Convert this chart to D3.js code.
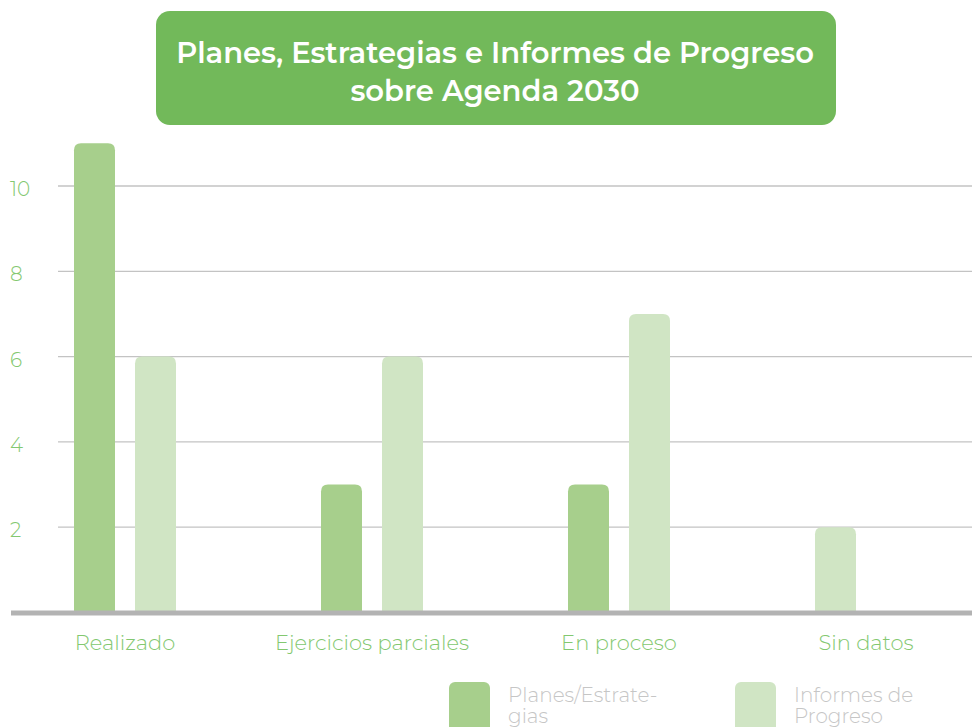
<!DOCTYPE html>
<html>
<head>
<meta charset="utf-8">
<script src="https://cdn.jsdelivr.net/npm/d3@7"></script>
<style>
  html, body { margin: 0; padding: 0; background: #fff; }
  svg { display: block; font-family: Montserrat, "Open Sans", Lato, sans-serif; }
</style>
</head>
<body>
<div id="container"></div>
<script>
const width = 972, height = 727;

// --- Data ---
const categories = ["Realizado", "Ejercicios parciales", "En proceso", "Sin datos"];
const series = ["Planes/Estrategias", "Informes de Progreso"];
const planes = [11, 3, 3, 0];
const informes = [6, 6, 7, 2];
const yTicks = [2, 4, 6, 8, 10];
const titleLines = ["Planes, Estrategias e Informes de Progreso", "sobre Agenda 2030"];
const legendLines = [["Planes/Estrate-", "gias"], ["Informes de", "Progreso"]];

const colors = ["#a7cf8c", "#d0e5c4"];
const tickGreen = "#83c870";

const svg = d3.select("#container").append("svg")
  .attr("width", width).attr("height", height);

// --- Scales ---
const x0 = d3.scaleBand().domain(categories).range([1.5, 989.5]);
const slots = d3.scaleBand().domain([0, 1]).range([-51, 51]).paddingInner(0.328);
const y = d3.scaleLinear().domain([0, 10]).range([612.5, 186]);

// Gridlines
svg.append("g").selectAll("line").data(yTicks).join("line")
  .attr("x1", 58).attr("x2", width)
  .attr("y1", d => y(d)).attr("y2", d => y(d))
  .attr("stroke", "#c3c3c3").attr("stroke-width", 1.3);

// Y tick labels
svg.append("g").selectAll("text").data(yTicks).join("text")
  .attr("x", 10).attr("y", d => y(d) + 10)
  .attr("fill", tickGreen)
  .style("font-size", "20px").style("font-weight", 300)
  .text(d => d);

// Bars, top corners rounded
function topRounded(x, yTop, w, yBase, r) {
  r = Math.min(r, (yBase - yTop));
  return `M${x},${yBase} L${x},${yTop + r} Q${x},${yTop} ${x + r},${yTop} ` +
    `L${x + w - r},${yTop} Q${x + w},${yTop} ${x + w},${yTop + r} L${x + w},${yBase} Z`;
}

// empty values are skipped and the remaining bars fill slots from the left
const rows = categories.map((c, i) => ({
  cat: c,
  bars: [planes[i], informes[i]].map((v, j) => ({ v, j })).filter(e => e.v > 0)
}));
const groups = svg.append("g").selectAll("g").data(rows).join("g")
  .attr("transform", d => `translate(${x0(d.cat) + x0.bandwidth() / 2},0)`);
groups.selectAll("path")
  .data(d => d.bars)
  .join("path")
  .attr("d", (e, k) => topRounded(slots(k), y(e.v), slots.bandwidth(), y(0), 7))
  .attr("fill", e => colors[e.j]);

// Baseline
svg.append("line")
  .attr("x1", 11).attr("x2", width)
  .attr("y1", y(0) + 0.5).attr("y2", y(0) + 0.5)
  .attr("stroke", "#b3b3b3").attr("stroke-width", 5);

// Category labels
svg.append("g").selectAll("text").data(categories).join("text")
  .attr("x", d => x0(d) + x0.bandwidth() / 2).attr("y", 650)
  .attr("text-anchor", "middle").attr("fill", tickGreen)
  .style("font-size", "21px").style("font-weight", 300)
  .text(d => d);

// Title box
svg.append("rect")
  .attr("x", 156).attr("y", 11).attr("width", 680).attr("height", 114)
  .attr("rx", 14).attr("fill", "#72b95a");
svg.append("g").selectAll("text").data(titleLines).join("text")
  .attr("x", 495).attr("y", (d, i) => 63 + i * 38)
  .attr("text-anchor", "middle").attr("fill", "#fff")
  .style("font-size", "29px").style("font-weight", 600)
  .text(d => d);

// Legend
const legendX = [449, 735];
legendLines.forEach((lines, i) => {
  svg.append("rect")
    .attr("x", legendX[i]).attr("y", 682).attr("width", 41).attr("height", 60)
    .attr("rx", 6).attr("fill", colors[i]);
  svg.append("g").selectAll("text").data(lines).join("text")
    .attr("x", legendX[i] + 59).attr("y", (d, k) => 702 + k * 21)
    .attr("fill", "#c6c6c6")
    .style("font-size", "20px").style("font-weight", 300)
    .text(d => d);
});
</script>
</body>
</html>
